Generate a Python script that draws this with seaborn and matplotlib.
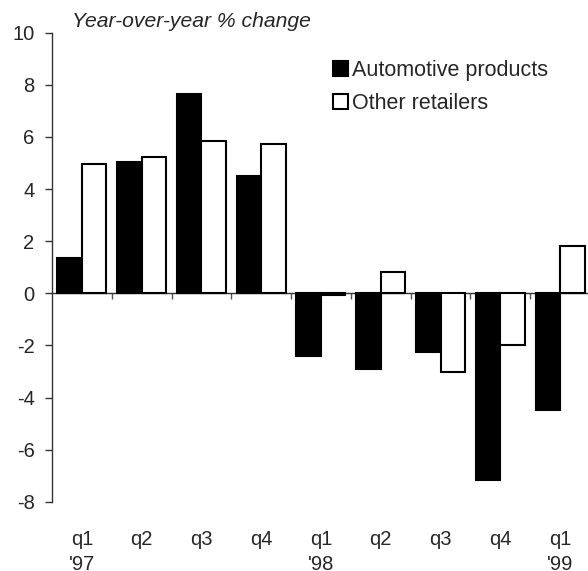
import matplotlib
matplotlib.use("Agg")
import matplotlib.pyplot as plt
import numpy as np
import pandas as pd
import seaborn as sb

periods = ["97q1", "97q2", "97q3", "97q4", "98q1", "98q2", "98q3", "98q4", "99q1"]
tick_labels = ["q1\n'97", "q2", "q3", "q4", "q1\n'98", "q2", "q3", "q4", "q1\n'99"]
automotive = [1.37, 5.03, 7.65, 4.49, -2.41, -2.9, -2.24, -7.16, -4.48]
other = [4.97, 5.24, 5.86, 5.72, -0.06, 0.81, -3.03, -1.97, 1.8]
series = ["Automotive products", "Other retailers"]

df = pd.DataFrame({
    "period": periods * 2,
    "value": automotive + other,
    "series": [series[0]] * len(periods) + [series[1]] * len(periods),
})

sb.set_style("white")
plt.rcParams["font.family"] = ["Liberation Sans", "DejaVu Sans"]
plt.rcParams["axes.unicode_minus"] = False

fig = plt.figure(figsize=(5.88, 5.71), dpi=100)
ax = fig.add_axes([0.0884, 0.1213, 0.915, 0.8213])

sb.barplot(data=df, x="period", y="value", hue="series", order=periods,
           hue_order=series, palette=["black", "white"], edgecolor="black",
           linewidth=1.5, width=0.82, ax=ax)

ax.set_xlim(-0.5, 8.5)
ax.set_ylim(-8, 10)
ax.set_yticks(np.arange(-8, 11, 2))
ax.set_xticks(range(len(periods)))
ax.set_xticklabels(tick_labels, linespacing=1.4)
ax.set_xlabel("")
ax.set_ylabel("")

for s in ["top", "right", "bottom"]:
    ax.spines[s].set_visible(False)
ax.spines["left"].set_linewidth(1)
ax.spines["left"].set_color("#333333")
ax.tick_params(axis="y", direction="out", length=5, width=1, color="#333333",
               labelsize=14.5, pad=7.5, left=True)
ax.tick_params(axis="x", length=0, labelsize=14.5, pad=20)

# zero line with group separators
zero = ax.secondary_xaxis(0, transform=ax.transData)
zero.set_xticks(np.arange(0.5, 8, 1))
zero.set_xticklabels([])
zero.tick_params(direction="out", length=4.5, width=1, color="#555555")
zero.spines["bottom"].set_linewidth(1)
zero.spines["bottom"].set_color("#333333")

handles, labels = ax.get_legend_handles_labels()
ax.legend(handles, labels, loc="upper left", bbox_to_anchor=(333 / 588, 1 - 60 / 571),
          bbox_transform=fig.transFigure, frameon=False, fontsize=15.5,
          handlelength=0.7, handleheight=0.7, handletextpad=0.2,
          labelspacing=0.55, borderpad=0, borderaxespad=0)

fig.text(72 / 588, 1 - 27 / 571, "Year-over-year % change", fontsize=15.2,
         style="italic", ha="left", va="baseline")

fig.savefig("out.png", dpi=100)
